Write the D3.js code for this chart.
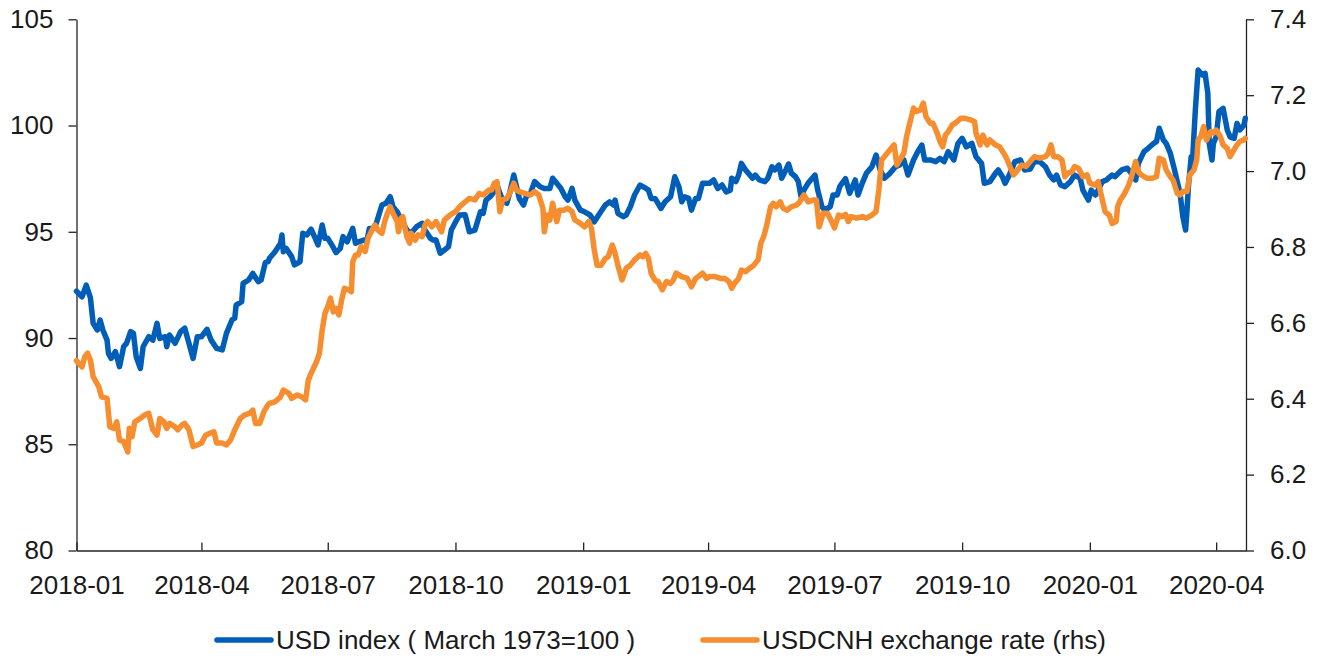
<!DOCTYPE html>
<html>
<head>
<meta charset="utf-8">
<script src="https://cdn.jsdelivr.net/npm/d3@7"></script>
<style>
  html, body { margin: 0; padding: 0; background: #fff; }
  svg { display: block; }
  text { font-family: "Liberation Sans", Arial, Helvetica, sans-serif; fill: #1a1a1a; }
</style>
</head>
<body>
<svg id="chart" width="1323" height="661"></svg>
<script>
// ---------------- DATA ----------------
const usdDates = ["2018-01-01","2018-01-05","2018-01-08","2018-01-11","2018-01-13","2018-01-16","2018-01-18","2018-01-20","2018-01-23","2018-01-24","2018-01-26","2018-01-29","2018-02-01","2018-02-04","2018-02-06","2018-02-09","2018-02-11","2018-02-13","2018-02-16","2018-02-18","2018-02-22","2018-02-25","2018-02-28","2018-03-02","2018-03-06","2018-03-07","2018-03-09","2018-03-13","2018-03-17","2018-03-20","2018-03-23","2018-03-26","2018-03-29","2018-04-01","2018-04-05","2018-04-08","2018-04-12","2018-04-16","2018-04-19","2018-04-23","2018-04-25","2018-04-26","2018-04-30","2018-05-01","2018-05-05","2018-05-08","2018-05-12","2018-05-14","2018-05-17","2018-05-19","2018-05-20","2018-05-24","2018-05-28","2018-05-29","2018-05-30","2018-06-01","2018-06-05","2018-06-07","2018-06-11","2018-06-13","2018-06-16","2018-06-19","2018-06-22","2018-06-24","2018-06-27","2018-06-29","2018-07-01","2018-07-04","2018-07-07","2018-07-10","2018-07-12","2018-07-15","2018-07-17","2018-07-19","2018-07-21","2018-07-23","2018-07-27","2018-07-29","2018-07-31","2018-08-03","2018-08-05","2018-08-09","2018-08-12","2018-08-15","2018-08-17","2018-08-20","2018-08-23","2018-08-27","2018-08-30","2018-09-03","2018-09-07","2018-09-09","2018-09-13","2018-09-15","2018-09-17","2018-09-20","2018-09-23","2018-09-26","2018-09-28","2018-10-01","2018-10-04","2018-10-08","2018-10-11","2018-10-15","2018-10-19","2018-10-21","2018-10-23","2018-10-26","2018-10-28","2018-10-31","2018-11-02","2018-11-04","2018-11-07","2018-11-09","2018-11-12","2018-11-14","2018-11-16","2018-11-19","2018-11-21","2018-11-24","2018-11-27","2018-12-01","2018-12-04","2018-12-08","2018-12-10","2018-12-13","2018-12-16","2018-12-19","2018-12-21","2018-12-24","2018-12-26","2018-12-30","2019-01-02","2019-01-06","2019-01-09","2019-01-13","2019-01-17","2019-01-20","2019-01-23","2019-01-24","2019-01-26","2019-01-30","2019-02-01","2019-02-04","2019-02-07","2019-02-11","2019-02-15","2019-02-17","2019-02-19","2019-02-22","2019-02-26","2019-03-01","2019-03-05","2019-03-08","2019-03-11","2019-03-13","2019-03-15","2019-03-18","2019-03-20","2019-03-23","2019-03-25","2019-03-28","2019-03-31","2019-04-02","2019-04-05","2019-04-08","2019-04-11","2019-04-14","2019-04-17","2019-04-18","2019-04-21","2019-04-23","2019-04-25","2019-04-28","2019-04-30","2019-05-03","2019-05-05","2019-05-08","2019-05-12","2019-05-14","2019-05-17","2019-05-19","2019-05-22","2019-05-24","2019-05-27","2019-05-29","2019-05-31","2019-06-03","2019-06-05","2019-06-07","2019-06-09","2019-06-12","2019-06-15","2019-06-17","2019-06-19","2019-06-22","2019-06-24","2019-06-28","2019-06-30","2019-07-03","2019-07-05","2019-07-09","2019-07-12","2019-07-16","2019-07-18","2019-07-21","2019-07-24","2019-07-28","2019-07-31","2019-08-03","2019-08-06","2019-08-10","2019-08-14","2019-08-17","2019-08-20","2019-08-23","2019-08-27","2019-08-30","2019-09-02","2019-09-04","2019-09-08","2019-09-12","2019-09-15","2019-09-18","2019-09-21","2019-09-25","2019-09-28","2019-10-01","2019-10-04","2019-10-08","2019-10-11","2019-10-15","2019-10-17","2019-10-21","2019-10-25","2019-10-27","2019-10-30","2019-11-01","2019-11-04","2019-11-08","2019-11-12","2019-11-15","2019-11-19","2019-11-22","2019-11-26","2019-11-30","2019-12-03","2019-12-06","2019-12-08","2019-12-11","2019-12-14","2019-12-18","2019-12-21","2019-12-25","2019-12-27","2019-12-31","2020-01-02","2020-01-05","2020-01-07","2020-01-10","2020-01-13","2020-01-17","2020-01-19","2020-01-24","2020-01-28","2020-01-30","2020-02-03","2020-02-05","2020-02-09","2020-02-12","2020-02-16","2020-02-18","2020-02-20","2020-02-23","2020-02-25","2020-02-28","2020-03-02","2020-03-06","2020-03-08","2020-03-10","2020-03-11","2020-03-12","2020-03-14","2020-03-15","2020-03-17","2020-03-19","2020-03-22","2020-03-24","2020-03-26","2020-03-27","2020-03-29","2020-03-30","2020-04-01","2020-04-03","2020-04-06","2020-04-09","2020-04-11","2020-04-14","2020-04-16","2020-04-18","2020-04-21","2020-04-22"];
const usdValues = [92.2,91.94,92.49,91.9,90.69,90.38,90.85,90.38,89.9,89.28,89.04,89.36,88.65,89.6,89.75,90.3,90.22,89.12,88.57,89.59,90.06,89.9,90.69,89.98,90.06,89.59,90.14,89.75,90.3,90.46,89.75,89.04,90.06,90.06,90.41,89.9,89.51,89.44,90.22,90.85,90.93,91.55,91.71,92.57,92.73,93.04,92.65,92.73,93.55,93.59,93.75,94.06,94.46,94.85,94.06,94.22,93.83,93.44,93.59,94.93,94.85,95.12,94.69,94.38,95.32,94.69,94.69,94.38,94.02,94.22,94.77,94.53,94.85,95.16,94.46,94.53,94.61,94.53,95.16,95.16,95.4,96.26,96.34,96.65,96.18,95.94,95.55,95.08,94.93,95.24,95.4,95.08,94.69,94.61,94.61,93.99,94.14,94.3,95.08,95.45,95.79,95.8,95.0,95.08,95.94,95.87,96.49,96.65,96.81,97.2,96.81,96.49,96.34,96.81,97.67,97.12,96.57,96.26,96.65,96.81,97.36,97.12,97.04,97.04,97.52,97.28,97.04,96.65,96.49,97.04,96.49,96.02,95.94,95.79,95.47,95.87,96.26,96.41,96.26,96.49,95.87,95.71,95.79,96.18,96.73,97.2,97.05,96.96,96.57,96.55,96.1,96.41,96.65,97.59,97.12,96.41,96.65,96.57,96.02,96.57,96.57,97.28,97.28,97.28,97.44,97.04,97.2,96.88,96.96,97.52,97.36,97.67,98.22,97.91,97.75,97.52,97.67,97.44,97.36,97.52,98.06,97.91,98.14,97.52,97.91,98.19,97.75,97.59,97.36,96.65,96.96,97.28,97.52,97.67,96.96,96.18,96.02,96.18,96.73,96.73,97.15,97.5,96.81,97.44,96.73,97.28,97.75,98.06,98.61,97.91,97.52,97.75,98.06,98.14,98.38,97.67,98.38,98.77,99.08,98.38,98.38,98.3,98.46,98.3,98.77,98.38,99.16,99.4,99.0,99.16,98.53,98.22,97.28,97.36,97.75,97.91,97.59,97.28,97.67,98.3,98.38,97.91,97.95,98.3,98.3,98.06,97.67,97.44,97.67,97.2,97.12,97.36,97.67,97.52,96.96,96.49,96.96,96.73,96.96,97.36,97.44,97.67,97.59,97.91,97.99,97.83,97.44,98.22,98.77,98.93,99.16,99.24,99.87,99.32,99.16,98.69,97.91,96.81,95.71,95.08,96.02,97.12,98.53,98.38,100.73,102.61,102.38,102.46,101.52,99.16,98.38,99.16,99.47,100.65,100.81,99.79,99.47,99.4,100.1,99.79,100.02,100.34];

const cnhDates = ["2018-01-01","2018-01-05","2018-01-07","2018-01-09","2018-01-11","2018-01-13","2018-01-17","2018-01-19","2018-01-23","2018-01-25","2018-01-28","2018-01-30","2018-02-01","2018-02-04","2018-02-07","2018-02-08","2018-02-10","2018-02-12","2018-02-16","2018-02-19","2018-02-22","2018-02-25","2018-02-28","2018-03-02","2018-03-05","2018-03-07","2018-03-09","2018-03-13","2018-03-15","2018-03-18","2018-03-20","2018-03-23","2018-03-26","2018-03-29","2018-04-01","2018-04-04","2018-04-07","2018-04-10","2018-04-12","2018-04-16","2018-04-19","2018-04-22","2018-04-25","2018-04-29","2018-05-02","2018-05-06","2018-05-08","2018-05-10","2018-05-13","2018-05-16","2018-05-19","2018-05-20","2018-05-24","2018-05-28","2018-05-30","2018-06-03","2018-06-05","2018-06-09","2018-06-12","2018-06-15","2018-06-17","2018-06-19","2018-06-23","2018-06-25","2018-06-27","2018-06-29","2018-07-01","2018-07-03","2018-07-05","2018-07-07","2018-07-09","2018-07-11","2018-07-13","2018-07-16","2018-07-18","2018-07-19","2018-07-21","2018-07-23","2018-07-25","2018-07-28","2018-07-30","2018-08-02","2018-08-04","2018-08-06","2018-08-09","2018-08-11","2018-08-13","2018-08-15","2018-08-17","2018-08-20","2018-08-21","2018-08-23","2018-08-24","2018-08-27","2018-08-29","2018-08-30","2018-09-02","2018-09-04","2018-09-07","2018-09-09","2018-09-11","2018-09-14","2018-09-17","2018-09-21","2018-09-23","2018-09-27","2018-10-01","2018-10-04","2018-10-08","2018-10-11","2018-10-15","2018-10-18","2018-10-21","2018-10-25","2018-10-27","2018-10-29","2018-10-31","2018-11-02","2018-11-04","2018-11-07","2018-11-09","2018-11-12","2018-11-14","2018-11-16","2018-11-20","2018-11-24","2018-11-27","2018-11-30","2018-12-03","2018-12-04","2018-12-06","2018-12-08","2018-12-10","2018-12-13","2018-12-15","2018-12-18","2018-12-21","2018-12-24","2018-12-26","2018-12-30","2019-01-02","2019-01-05","2019-01-07","2019-01-09","2019-01-11","2019-01-14","2019-01-17","2019-01-19","2019-01-22","2019-01-24","2019-01-26","2019-01-29","2019-02-01","2019-02-04","2019-02-07","2019-02-11","2019-02-13","2019-02-15","2019-02-17","2019-02-19","2019-02-22","2019-02-24","2019-02-27","2019-03-02","2019-03-05","2019-03-07","2019-03-09","2019-03-13","2019-03-17","2019-03-20","2019-03-23","2019-03-25","2019-03-28","2019-03-31","2019-04-02","2019-04-06","2019-04-10","2019-04-13","2019-04-16","2019-04-18","2019-04-20","2019-04-23","2019-04-25","2019-04-28","2019-05-01","2019-05-04","2019-05-07","2019-05-09","2019-05-11","2019-05-13","2019-05-16","2019-05-18","2019-05-20","2019-05-23","2019-05-25","2019-05-28","2019-05-31","2019-06-04","2019-06-06","2019-06-09","2019-06-12","2019-06-16","2019-06-18","2019-06-20","2019-06-23","2019-06-26","2019-06-29","2019-07-01","2019-07-04","2019-07-06","2019-07-09","2019-07-11","2019-07-13","2019-07-17","2019-07-21","2019-07-24","2019-07-28","2019-07-31","2019-08-02","2019-08-04","2019-08-08","2019-08-10","2019-08-13","2019-08-15","2019-08-17","2019-08-20","2019-08-22","2019-08-24","2019-08-27","2019-08-29","2019-09-01","2019-09-03","2019-09-05","2019-09-08","2019-09-10","2019-09-13","2019-09-15","2019-09-17","2019-09-19","2019-09-21","2019-09-24","2019-09-26","2019-09-30","2019-10-03","2019-10-07","2019-10-10","2019-10-11","2019-10-14","2019-10-16","2019-10-19","2019-10-21","2019-10-25","2019-10-28","2019-10-31","2019-11-02","2019-11-04","2019-11-07","2019-11-09","2019-11-13","2019-11-16","2019-11-19","2019-11-22","2019-11-26","2019-11-30","2019-12-02","2019-12-04","2019-12-06","2019-12-09","2019-12-12","2019-12-14","2019-12-16","2019-12-19","2019-12-21","2019-12-24","2019-12-27","2019-12-30","2020-01-01","2020-01-05","2020-01-07","2020-01-10","2020-01-12","2020-01-15","2020-01-17","2020-01-20","2020-01-21","2020-01-23","2020-01-26","2020-01-29","2020-01-31","2020-02-03","2020-02-05","2020-02-07","2020-02-11","2020-02-15","2020-02-18","2020-02-20","2020-02-23","2020-02-25","2020-02-28","2020-03-01","2020-03-04","2020-03-06","2020-03-08","2020-03-11","2020-03-13","2020-03-16","2020-03-18","2020-03-19","2020-03-21","2020-03-23","2020-03-25","2020-03-28","2020-03-30","2020-04-01","2020-04-04","2020-04-06","2020-04-09","2020-04-11","2020-04-13","2020-04-16","2020-04-18","2020-04-21","2020-04-22"];
const cnhValues = [6.50,6.484,6.511,6.52,6.502,6.458,6.432,6.405,6.401,6.326,6.322,6.339,6.291,6.287,6.26,6.322,6.30,6.339,6.348,6.357,6.362,6.318,6.304,6.348,6.339,6.322,6.335,6.326,6.318,6.331,6.335,6.318,6.274,6.278,6.283,6.304,6.309,6.313,6.283,6.283,6.278,6.291,6.318,6.348,6.357,6.362,6.37,6.335,6.335,6.366,6.384,6.388,6.392,6.405,6.423,6.414,6.401,6.41,6.405,6.397,6.449,6.467,6.498,6.52,6.581,6.625,6.643,6.665,6.629,6.638,6.621,6.66,6.691,6.687,6.682,6.761,6.779,6.779,6.801,6.788,6.823,6.845,6.858,6.845,6.836,6.867,6.889,6.906,6.889,6.867,6.84,6.876,6.88,6.827,6.81,6.836,6.818,6.832,6.827,6.858,6.867,6.853,6.867,6.84,6.871,6.884,6.893,6.906,6.919,6.928,6.924,6.941,6.937,6.95,6.95,6.968,6.972,6.893,6.924,6.928,6.941,6.968,6.95,6.946,6.941,6.937,6.946,6.937,6.902,6.84,6.884,6.871,6.915,6.867,6.897,6.897,6.902,6.893,6.871,6.862,6.853,6.867,6.849,6.792,6.752,6.752,6.77,6.774,6.805,6.783,6.752,6.713,6.744,6.752,6.766,6.779,6.774,6.783,6.77,6.73,6.711,6.709,6.687,6.709,6.704,6.713,6.731,6.722,6.717,6.695,6.717,6.722,6.731,6.717,6.722,6.722,6.717,6.717,6.709,6.691,6.704,6.717,6.739,6.735,6.744,6.752,6.766,6.81,6.827,6.853,6.906,6.915,6.906,6.919,6.902,6.897,6.906,6.911,6.919,6.937,6.919,6.924,6.924,6.853,6.889,6.889,6.867,6.85,6.884,6.88,6.886,6.867,6.88,6.876,6.88,6.876,6.884,6.893,6.95,7.029,7.047,7.056,7.069,7.016,7.029,7.047,7.091,7.122,7.166,7.157,7.161,7.179,7.143,7.126,7.126,7.10,7.078,7.064,7.095,7.104,7.122,7.126,7.139,7.139,7.135,7.13,7.10,7.069,7.095,7.069,7.082,7.069,7.064,7.047,7.034,7.016,6.99,6.998,7.016,7.012,7.025,7.038,7.034,7.038,7.047,7.069,7.038,7.038,7.029,6.985,6.994,6.998,7.012,7.007,6.985,6.99,6.968,6.963,6.972,6.924,6.893,6.884,6.862,6.867,6.906,6.924,6.941,6.963,6.985,7.025,6.998,6.99,6.981,6.981,6.985,7.034,7.029,7.003,6.985,6.976,6.941,6.937,6.946,6.946,6.99,7.003,7.029,7.082,7.091,7.117,7.082,7.104,7.10,7.108,7.091,7.069,7.06,7.038,7.051,7.069,7.078,7.082,7.086];

const leftTicks = [80, 85, 90, 95, 100, 105];
const rightTicks = [6.0, 6.2, 6.4, 6.6, 6.8, 7.0, 7.2, 7.4];
const xTickLabels = ["2018-01","2018-04","2018-07","2018-10","2019-01","2019-04","2019-07","2019-10","2020-01","2020-04"];
const seriesNames = ["USD index ( March 1973=100 )", "USDCNH exchange rate (rhs)"];

// ---------------- CHART ----------------
const BLUE = "#005EB8", ORANGE = "#F68D2E", AXIS = "#222";
const svg = d3.select("#chart");
svg.append("rect").attr("width", 1323).attr("height", 661).attr("fill", "#fff");

const parse = d3.timeParse("%Y-%m-%d");
const L = 76.5, R = 1246, T = 19.3, B = 550.5;

const x = d3.scaleTime()
  .domain([parse("2018-01-01"), new Date(2020, 3, 22, 12)])
  .range([L, R]);
const yL = d3.scaleLinear().domain([80, 105]).range([B, T]);
const yR = d3.scaleLinear().domain([6.0, 7.4]).range([B, T]);

const usd = usdDates.map((d, i) => ({ date: parse(d), v: usdValues[i] }));
const cnh = cnhDates.map((d, i) => ({ date: parse(d), v: cnhValues[i] }));

// axes
const gL = svg.append("g").attr("transform", `translate(${L},0)`)
  .call(d3.axisLeft(yL).tickValues(leftTicks).tickFormat(d3.format("d"))
    .tickSize(8).tickSizeOuter(0).tickPadding(15));
const gR = svg.append("g").attr("transform", `translate(${R},0)`)
  .call(d3.axisRight(yR).tickValues(rightTicks).tickFormat(d3.format(".1f"))
    .tickSize(8).tickSizeOuter(0).tickPadding(16));
const xTickDates = xTickLabels.map(s => parse(s + "-01"));
const gB = svg.append("g").attr("transform", `translate(0,${B})`)
  .call(d3.axisBottom(x).tickValues(xTickDates).tickFormat(d3.timeFormat("%Y-%m"))
    .tickSizeInner(-8).tickSizeOuter(0).tickPadding(25));

[gL, gR, gB].forEach(g => {
  g.selectAll(".domain").attr("stroke", AXIS).attr("stroke-width", 1.3);
  g.selectAll(".tick line").attr("stroke", AXIS).attr("stroke-width", 1.3);
  g.selectAll(".tick text").attr("font-size", 26).attr("fill", "#1a1a1a")
    .style("font-family", '"Liberation Sans", Arial, sans-serif');
});
gB.selectAll(".tick text").attr("dy", "0.71em");

// lines
const lineL = d3.line().x(d => x(d.date)).y(d => yL(d.v)).curve(d3.curveLinear);
const lineR = d3.line().x(d => x(d.date)).y(d => yR(d.v)).curve(d3.curveLinear);

svg.append("path").datum(usd).attr("d", lineL)
  .attr("fill", "none").attr("stroke", BLUE).attr("stroke-width", 5.5)
  .attr("stroke-linejoin", "round").attr("stroke-linecap", "round");
svg.append("path").datum(cnh).attr("d", lineR)
  .attr("fill", "none").attr("stroke", ORANGE).attr("stroke-width", 5.5)
  .attr("stroke-linejoin", "round").attr("stroke-linecap", "round");

// legend
const legend = [
  { name: seriesNames[0], color: BLUE, x0: 217 },
  { name: seriesNames[1], color: ORANGE, x0: 703 }
];
const ly = 640;
legend.forEach(l => {
  svg.append("line").attr("x1", l.x0).attr("x2", l.x0 + 54).attr("y1", ly).attr("y2", ly)
    .attr("stroke", l.color).attr("stroke-width", 5.5).attr("stroke-linecap", "round");
  svg.append("text").attr("x", l.x0 + 59).attr("y", ly).attr("dy", "0.36em")
    .attr("font-size", 26).text(l.name);
});
</script>
</body>
</html>
